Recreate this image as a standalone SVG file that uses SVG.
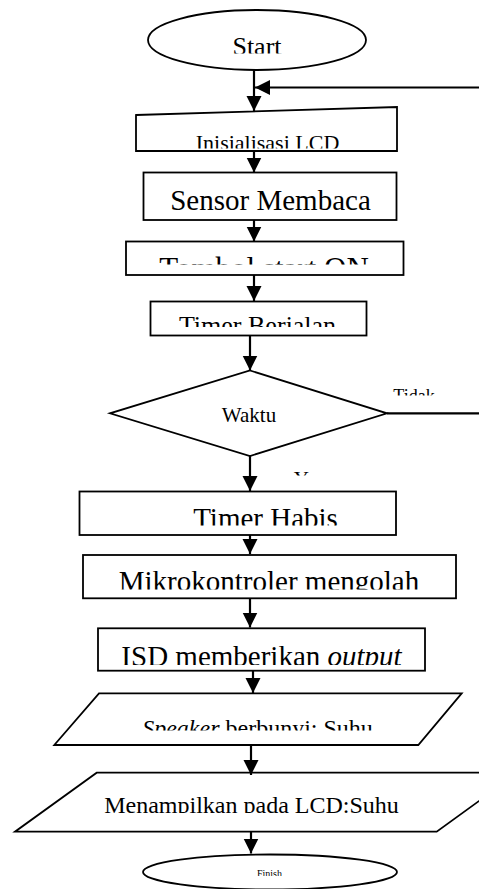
<svg xmlns="http://www.w3.org/2000/svg" width="479" height="889" viewBox="0 0 479 889">
<style>
.s{fill:#fff;stroke:#000;stroke-width:1.8}
.t{font-family:"Liberation Serif","Times New Roman",serif;fill:#000;text-anchor:middle}
.c{fill:none;stroke:#000;stroke-width:2.2}
</style>
<defs>
<marker id="ah" markerUnits="userSpaceOnUse" markerWidth="16" markerHeight="16" refX="15" refY="7.5" orient="auto">
<path d="M0,0 L15,7.5 L0,15 z" fill="#000"/>
</marker>
<clipPath id="c1"><rect x="0" y="0" width="479" height="53.5"/></clipPath>
<clipPath id="c2"><rect x="0" y="0" width="479" height="148.5"/></clipPath>
<clipPath id="c4"><rect x="0" y="0" width="479" height="264.5"/></clipPath>
<clipPath id="c5"><rect x="0" y="0" width="479" height="327"/></clipPath>
<clipPath id="c6"><rect x="0" y="0" width="479" height="395.5"/></clipPath>
<clipPath id="c7"><rect x="0" y="0" width="479" height="475.5"/></clipPath>
<clipPath id="c8"><rect x="0" y="0" width="479" height="525.5"/></clipPath>
<clipPath id="c9"><rect x="0" y="0" width="479" height="589.5"/></clipPath>
<clipPath id="c10"><rect x="0" y="0" width="479" height="665"/></clipPath>
<clipPath id="c11"><rect x="0" y="0" width="479" height="730.5"/></clipPath>
<clipPath id="c12"><rect x="0" y="0" width="479" height="813"/></clipPath>
<clipPath id="c13"><rect x="0" y="0" width="479" height="876"/></clipPath>
</defs>
<g id="start">
<ellipse class="s" cx="257" cy="40" rx="109" ry="30"/>
<text class="t" x="257" y="55" font-size="26" clip-path="url(#c1)">Start</text>
</g>
<g id="init-lcd">
<polygon class="s" points="136,115 397,107 397,151 136,151"/>
<text class="t" x="267.5" y="150" font-size="22" clip-path="url(#c2)">Inisialisasi LCD</text>
</g>
<g id="sensor">
<rect class="s" x="143.5" y="172.5" width="253" height="47.5"/>
<text class="t" x="270.5" y="210" font-size="29">Sensor Membaca</text>
</g>
<g id="tombol">
<rect class="s" x="126" y="241.5" width="277.5" height="33.5"/>
<text class="t" x="264" y="279" font-size="31" clip-path="url(#c4)">Tombol start ON</text>
</g>
<g id="timer-berjalan">
<rect class="s" x="150.5" y="301.5" width="216" height="34"/>
<text class="t" x="257.5" y="334" font-size="26" clip-path="url(#c5)">Timer Berjalan</text>
</g>
<g id="waktu">
<polygon class="s" points="250,370.5 387,413.3 250,456 110,413.3"/>
<text class="t" x="249" y="422" font-size="21">Waktu</text>
</g>
<g id="label-tidak">
<text class="t" x="414" y="402" font-size="18" clip-path="url(#c6)">Tidak</text>
</g>
<g id="label-ya">
<text class="t" x="305" y="486" font-size="21" clip-path="url(#c7)">Ya</text>
</g>
<g id="timer-habis">
<rect class="s" x="79.5" y="491.5" width="316.5" height="43.5"/>
<text class="t" x="265.5" y="527.5" font-size="29" clip-path="url(#c8)">Timer Habis</text>
</g>
<g id="mikro">
<rect class="s" x="83" y="555" width="373" height="43.3"/>
<text class="t" x="269" y="591" font-size="29" clip-path="url(#c9)">Mikrokontroler mengolah</text>
</g>
<g id="isd">
<rect class="s" x="98" y="628.3" width="327" height="42.4"/>
<text class="t" x="261.5" y="666" font-size="29" clip-path="url(#c10)">ISD memberikan <tspan font-style="italic">output</tspan></text>
</g>
<g id="speaker">
<polygon class="s" points="99,693.3 461.7,693.3 418.3,745 54.3,745"/>
<text class="t" x="257.5" y="736" font-size="24" clip-path="url(#c11)"><tspan font-style="italic">Speaker</tspan> berbunyi: Suhu</text>
</g>
<g id="menampilkan">
<polygon class="s" points="96.7,772.7 518,772.7 436.7,831.7 15,831.7"/>
<text class="t" x="251.5" y="813" font-size="24" clip-path="url(#c12)">Menampilkan pada LCD:Suhu</text>
</g>
<g id="finish">
<ellipse class="s" cx="270" cy="872" rx="127" ry="17.5"/>
<text class="t" x="269.5" y="877" font-size="10" clip-path="url(#c13)">Finish</text>
</g>
<g id="connectors">
<line class="c" x1="254" y1="70" x2="254" y2="111" marker-end="url(#ah)"/>
<line class="c" x1="479" y1="87.5" x2="255" y2="87.5" marker-end="url(#ah)"/>
<line class="c" x1="254" y1="151" x2="254" y2="172.5" marker-end="url(#ah)"/>
<line class="c" x1="254" y1="220" x2="254" y2="241.5" marker-end="url(#ah)"/>
<line class="c" x1="254" y1="275" x2="254" y2="301" marker-end="url(#ah)"/>
<line class="c" x1="250" y1="335.7" x2="250" y2="370.5" marker-end="url(#ah)"/>
<line class="c" x1="387" y1="413.3" x2="479" y2="413.3"/>
<line class="c" x1="250" y1="456" x2="250" y2="491" marker-end="url(#ah)"/>
<line class="c" x1="250" y1="535" x2="250" y2="554" marker-end="url(#ah)"/>
<line class="c" x1="250" y1="598.3" x2="250" y2="627.5" marker-end="url(#ah)"/>
<line class="c" x1="253" y1="670.7" x2="253" y2="693" marker-end="url(#ah)"/>
<line class="c" x1="251" y1="745" x2="251" y2="775" marker-end="url(#ah)"/>
<line class="c" x1="251" y1="831.7" x2="251" y2="853.5" marker-end="url(#ah)"/>
</g>
</svg>
